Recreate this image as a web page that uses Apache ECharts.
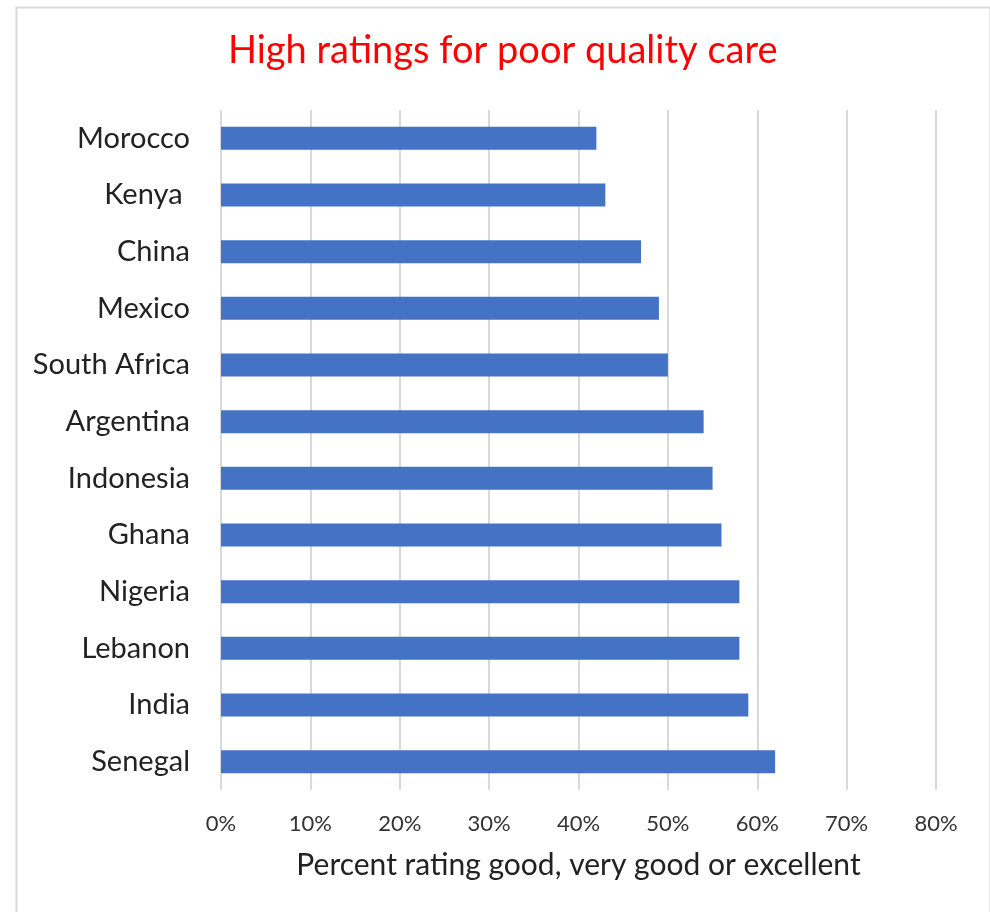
<!DOCTYPE html>
<html>
<head>
<meta charset="utf-8">
<style>html,body{margin:0;padding:0;background:#fff;}#c{width:990px;height:912px;}</style>
<script src="https://cdn.jsdelivr.net/npm/echarts@6/dist/echarts.min.js"></script>
</head>
<body>
<div id="c"></div>
<script>
const categories = ["Morocco","Kenya ","China","Mexico","South Africa","Argentina","Indonesia","Ghana","Nigeria","Lebanon","India","Senegal"];
const values = [42,43,47,49,50,54,55,56,58,58,59,62];
const titleText = "High ratings for poor quality care";
const xAxisName = "Percent rating good, very good or excellent";

const chart = echarts.init(document.getElementById('c'));
chart.setOption({
  animation: false,
  backgroundColor: '#fff',
  graphic: [{
    type: 'rect', left: 14, top: 5,
    shape: {width: 974, height: 920},
    style: {fill: 'none', stroke: '#d9d9d9', lineWidth: 2}
  }],
  title: {
    text: titleText, left: 223, top: 27,
    textStyle: {color: '#ff0000', fontSize: 38, fontWeight: 'normal', fontFamily: 'Lato'}
  },
  grid: {left: 221, right: 54, top: 110, bottom: 122, containLabel: false},
  xAxis: {
    type: 'value', min: 0, max: 80, interval: 10,
    axisLine: {show: false}, axisTick: {show: false},
    splitLine: {show: true, lineStyle: {color: '#d9d9d9', width: 2}},
    axisLabel: {formatter: '{value}%', fontSize: 22, color: '#333', margin: 23, fontFamily: 'Lato'},
    name: xAxisName, nameLocation: 'middle', nameGap: 60,
    nameTextStyle: {fontSize: 30, color: '#222', fontFamily: 'Lato'}
  },
  yAxis: {
    type: 'category', data: categories, inverse: true,
    axisLine: {show: false}, axisTick: {show: false},
    axisLabel: {fontSize: 29, color: '#222', margin: 31, fontFamily: 'Lato'}
  },
  series: [{
    type: 'bar', data: values, barWidth: 23,
    itemStyle: {color: '#4472C4'}
  }]
});
</script>
</body>
</html>
